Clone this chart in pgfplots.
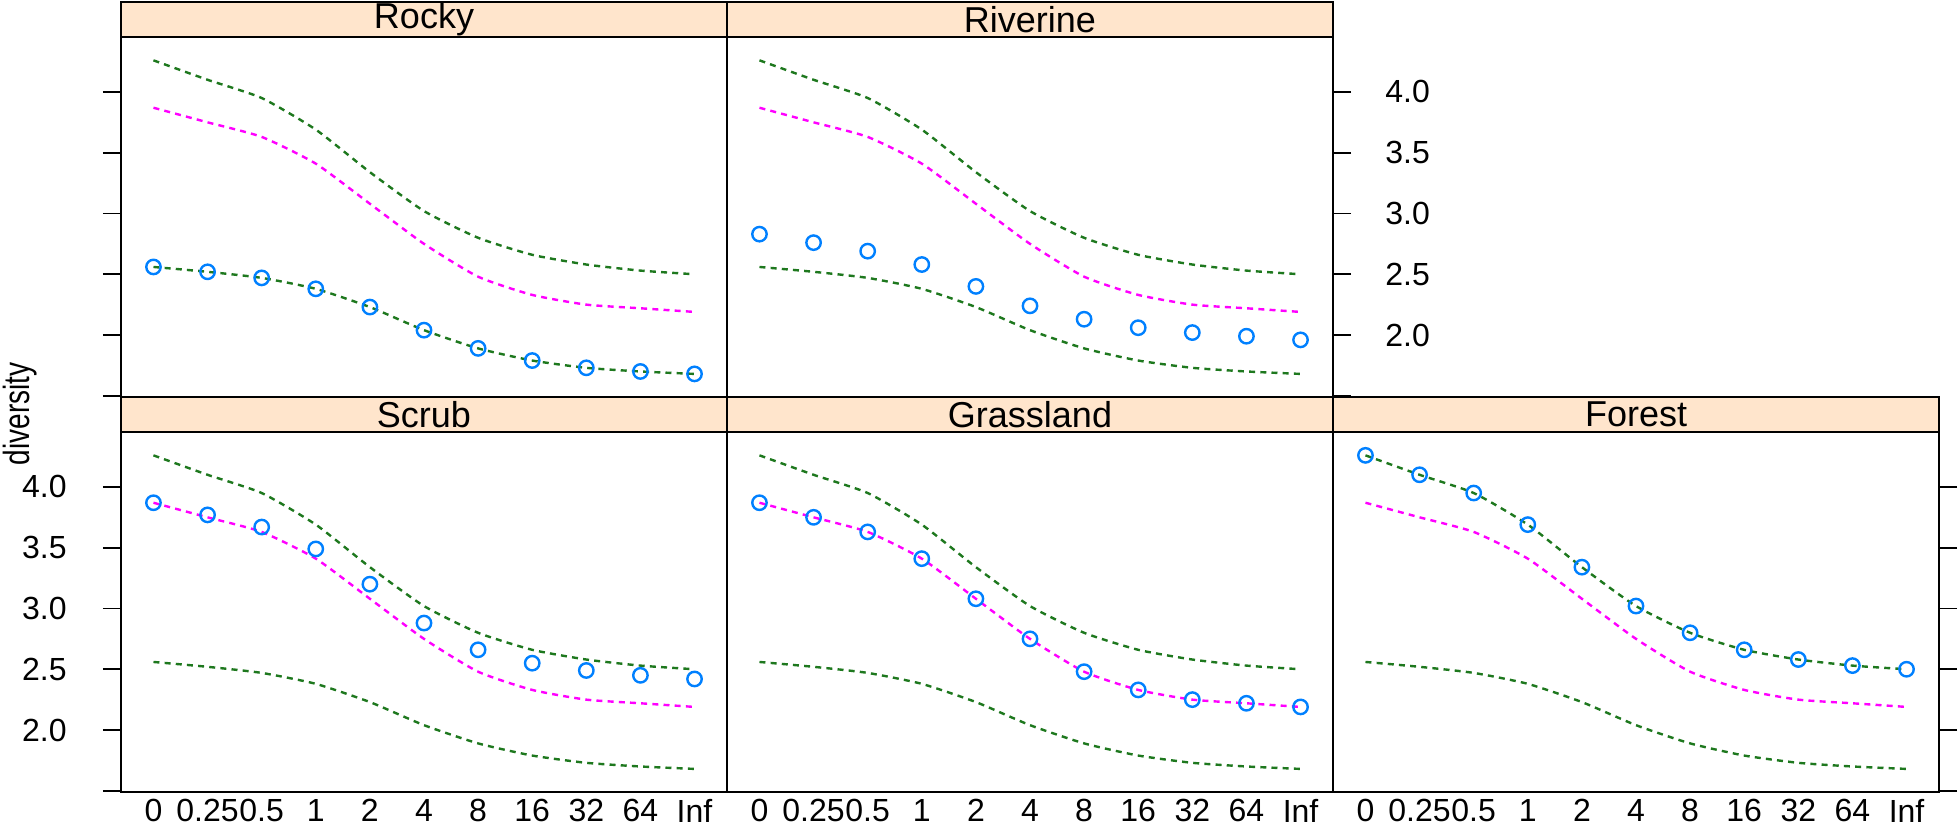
\documentclass[border=0pt]{standalone}
\usepackage{fontspec}
\setmainfont{Liberation Sans}
\usepackage{pgfplots}
\usepackage{pgfplotstable}
\pgfplotsset{compat=1.18}
\definecolor{stripc}{HTML}{FFE5CC}
\definecolor{lgreen}{RGB}{30,120,30}
\definecolor{lmag}{HTML}{FF00FF}
\definecolor{lblue}{HTML}{0080FF}

\pgfplotstableread{
x Forest Grassland Rocky Scrub Riverine
0 4.26 3.87 2.56 3.87 2.83
1 4.10 3.75 2.52 3.77 2.76
2 3.95 3.63 2.47 3.67 2.69
3 3.69 3.41 2.38 3.49 2.58
4 3.34 3.08 2.23 3.20 2.40
5 3.02 2.75 2.04 2.88 2.24
6 2.80 2.48 1.89 2.66 2.13
7 2.66 2.33 1.79 2.55 2.06
8 2.58 2.25 1.73 2.49 2.02
9 2.53 2.22 1.70 2.45 1.99
10 2.50 2.19 1.68 2.42 1.96
}\data

\pgfplotsset{
  panel/.style={
    width=303pt, height=180pt, scale only axis,
    xmin=-0.6, xmax=10.6, ymin=1.49, ymax=4.452,
    axis line style={line width=0.9pt},
    tick align=outside, major tick length=9pt,
    ytick={2,2.5,3,3.5,4},
    extra y ticks={1.5}, extra y tick labels={},
    extra y tick style={tick style={gray, line width=0.9pt}},
    ytick style={line width=0.9pt, black},
    xtick={0,...,10},
    xticklabels={0,0.25,0.5,1,2,4,8,16,32,64,Inf},
    xtick style={draw=none},
    xticklabel shift=-9.5pt,
    ticklabel style={font=\fontsize{16}{18}\selectfont, inner sep=4pt},
    /pgf/number format/assume math mode=true,
    yticklabel style={/pgf/number format/fixed, /pgf/number format/fixed zerofill, /pgf/number format/precision=1},
    anchor=south west,
  },
  lin/.style={line width=1.2pt, dash pattern=on 3pt off 2.6pt, smooth, tension=0.35},
  pts/.style={only marks, mark=o, mark size=3.6pt, lblue, mark options={line width=1.2pt}},
}

\newcommand{\refcurves}{%
  \addplot[lgreen, lin] table[x=x,y=Forest]{\data};
  \addplot[lmag, lin] table[x=x,y=Grassland]{\data};
  \addplot[lgreen, lin] table[x=x,y=Rocky]{\data};
}

\begin{document}
\begin{tikzpicture}
\useasboundingbox (-60.5pt,-17pt) rectangle (919.5pt,396pt);

% bottom row
\begin{axis}[panel, name=scrub, at={(0pt,0pt)}, ytick pos=left, yticklabel shift=14pt]
\addplot[pts] table[x=x,y=Scrub]{\data};
\refcurves
\end{axis}
\begin{axis}[panel, name=grass, at={(303pt,0pt)}, ytick=\empty, extra y ticks={}]
\addplot[pts] table[x=x,y=Grassland]{\data};
\refcurves
\end{axis}
\begin{axis}[panel, name=forest, at={(606pt,0pt)}, ytick pos=right, yticklabels={}]
\addplot[pts] table[x=x,y=Forest]{\data};
\refcurves
\end{axis}

% top row
\begin{axis}[panel, name=rocky, at={(0pt,197.5pt)}, ytick pos=left, yticklabels={}, xtick=\empty]
\addplot[pts] table[x=x,y=Rocky]{\data};
\refcurves
\end{axis}
\begin{axis}[panel, name=river, at={(303pt,197.5pt)}, ytick pos=right, yticklabel pos=right, yticklabel shift=13pt, xtick=\empty]
\addplot[pts] table[x=x,y=Riverine]{\data};
\refcurves
\end{axis}

% strips
\foreach \ax/\lab in {scrub/Scrub, grass/Grassland, forest/Forest, rocky/Rocky, river/Riverine}{
  \draw[fill=stripc, line width=0.9pt] (\ax.north west) rectangle ([yshift=17.5pt]\ax.north east);
  \node[font=\fontsize{18}{20}\selectfont, inner sep=0pt] at ([yshift=8.75pt]\ax.north) {\lab};
}

\node[rotate=90, yscale=1.3, inner sep=0pt, font=\fontsize{14}{17}\selectfont] at (-50.5pt,189pt) {diversity};
\end{tikzpicture}
\end{document}
